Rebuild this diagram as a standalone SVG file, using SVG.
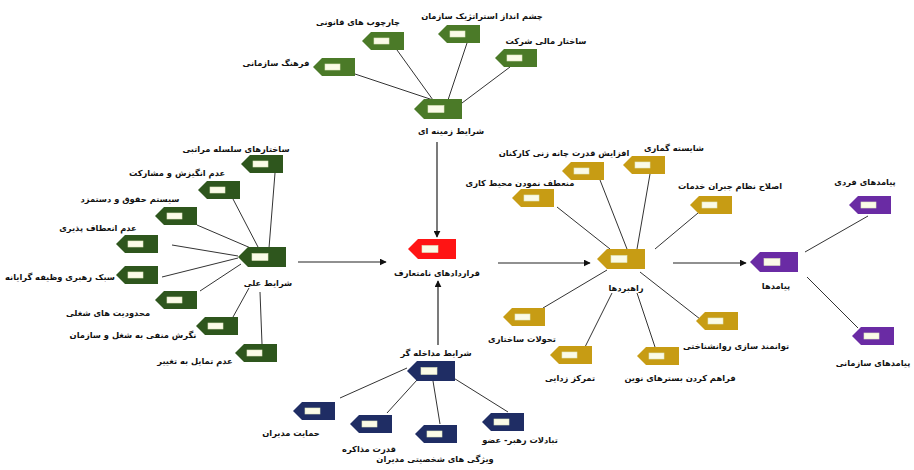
<svg xmlns="http://www.w3.org/2000/svg" xmlns:xlink="http://www.w3.org/1999/xlink" width="914" height="470" viewBox="0 0 914 470">
<style>
text{font-family:"DejaVu Sans",sans-serif;font-size:8.3px;font-weight:bold;fill:#111;text-anchor:middle}
.ln{stroke:#333;stroke-width:1;fill:none}
.ar{stroke:#222;stroke-width:1.2;fill:none;marker-end:url(#ah)}
.g1{fill:#4b7a28}
.g2{fill:#2e561d}
.rd{fill:#ff1414}
.gd{fill:#c79c14}
.pu{fill:#6a2ba4}
.nv{fill:#1f2d64}
</style>
<defs>
<marker id="ah" viewBox="0 0 10 10" refX="9" refY="5" markerWidth="7" markerHeight="7" markerUnits="userSpaceOnUse" orient="auto">
<path d="M0,0 L10,5 L0,10 Z" fill="#111"/>
</marker>
<symbol id="leaf" overflow="visible">
<path d="M0,9 L9,0 H42 V18 H9 Z"/>
<rect x="12" y="6" width="15" height="6" fill="#fbfbe8" stroke="#dfe6c0" stroke-width="0.6"/>
</symbol>
<symbol id="hub" overflow="visible">
<path d="M0,10 L10,0 H48 V20 H10 Z"/>
<rect x="14" y="6.5" width="16" height="7" fill="#fbfbe8" stroke="#dfe6c0" stroke-width="0.6"/>
</symbol>
</defs>
<rect width="914" height="470" fill="#ffffff"/>

<g id="connectors">
<line class="ln" x1="352" y1="73" x2="433" y2="100"/>
<line class="ln" x1="397" y1="50" x2="433" y2="100"/>
<line class="ln" x1="467" y1="43" x2="448" y2="100"/>
<line class="ln" x1="510" y1="67" x2="462" y2="103"/>

<line class="ln" x1="275" y1="173" x2="269" y2="248"/>
<line class="ln" x1="233" y1="199" x2="258" y2="247"/>
<line class="ln" x1="197" y1="225" x2="253" y2="249"/>
<line class="ln" x1="172" y1="245" x2="238" y2="256"/>
<line class="ln" x1="162" y1="277" x2="238" y2="258"/>
<line class="ln" x1="200" y1="291" x2="241" y2="264"/>
<line class="ln" x1="233" y1="317" x2="249" y2="288"/>
<line class="ln" x1="262" y1="344" x2="260" y2="292"/>

<line class="ln" x1="557" y1="207" x2="610" y2="249"/>
<line class="ln" x1="600" y1="180" x2="627" y2="249"/>
<line class="ln" x1="650" y1="174" x2="637" y2="249"/>
<line class="ln" x1="698" y1="213" x2="655" y2="249"/>
<line class="ln" x1="543" y1="308" x2="607" y2="270"/>
<line class="ln" x1="585" y1="347" x2="612" y2="293"/>
<line class="ln" x1="655" y1="347" x2="637" y2="293"/>
<line class="ln" x1="700" y1="319" x2="640" y2="272"/>

<line class="ln" x1="805" y1="252" x2="868" y2="216"/>
<line class="ln" x1="807" y1="277" x2="858" y2="328"/>

<line class="ln" x1="340" y1="398" x2="407" y2="368"/>
<line class="ln" x1="387" y1="413" x2="417" y2="380"/>
<line class="ln" x1="440" y1="424" x2="433" y2="381"/>
<line class="ln" x1="508" y1="412" x2="452" y2="377"/>

<line class="ar" x1="437" y1="142" x2="437" y2="237"/>
<line class="ar" x1="438" y1="345" x2="438" y2="281"/>
<line class="ar" x1="298" y1="262" x2="386" y2="262"/>
<line class="ar" x1="498" y1="263" x2="590" y2="263"/>
<line class="ar" x1="673" y1="263" x2="746" y2="263"/>
</g>

<!-- top cluster -->
<g id="n-farhang"><use href="#leaf" class="g1" x="313" y="58"/><text x="276" y="66">فرهنگ سازمانی</text></g>
<g id="n-charchub"><use href="#leaf" class="g1" x="362" y="32"/><text x="358" y="25">چارچوب های قانونی</text></g>
<g id="n-cheshm"><use href="#leaf" class="g1" x="438" y="25"/><text x="482" y="19">چشم انداز استراتژیک سازمان</text></g>
<g id="n-mali"><use href="#leaf" class="g1" x="495" y="49"/><text x="546" y="44">ساختار مالی شرکت</text></g>
<g id="n-zamine"><use href="#hub" class="g1" x="414" y="99"/><text x="451" y="134">شرایط زمینه ای</text></g>

<!-- left cluster -->
<g id="n-selsele"><use href="#leaf" class="g2" x="241" y="155"/><text x="236" y="152">ساختارهای سلسله مراتبی</text></g>
<g id="n-angize"><use href="#leaf" class="g2" x="198" y="181"/><text x="177" y="176">عدم انگیزش و مشارکت</text></g>
<g id="n-hoghugh"><use href="#leaf" class="g2" x="155" y="207"/><text x="130" y="202">سیستم حقوق و دستمزد</text></g>
<g id="n-enetaf"><use href="#leaf" class="g2" x="116" y="235"/><text x="98" y="231">عدم انعطاف پذیری</text></g>
<g id="n-ali"><use href="#hub" class="g2" x="238" y="247"/><text x="268" y="286">شرایط علی</text></g>
<g id="n-sabk"><use href="#leaf" class="g2" x="116" y="266"/><text x="60" y="280">سبک رهبری وظیفه گرایانه</text></g>
<g id="n-mahdud"><use href="#leaf" class="g2" x="155" y="291"/><text x="108" y="316">محدودیت های شغلی</text></g>
<g id="n-negaresh"><use href="#leaf" class="g2" x="196" y="317"/><text x="133" y="338">نگرش منفی به شغل و سازمان</text></g>
<g id="n-tamayol"><use href="#leaf" class="g2" x="235" y="344"/><text x="195" y="364">عدم تمایل به تغییر</text></g>

<!-- center -->
<g id="n-gharardad"><use href="#hub" class="rd" x="408" y="239"/><text x="437" y="276">قراردادهای نامتعارف</text></g>

<!-- gold cluster -->
<g id="n-afzayesh"><use href="#leaf" class="gd" x="562" y="162"/><text x="564" y="156">افزایش قدرت چانه زنی کارکنان</text></g>
<g id="n-shayeste"><use href="#leaf" class="gd" x="623" y="156"/><text x="674" y="151">شایسته گماری</text></g>
<g id="n-monatef"><use href="#leaf" class="gd" x="512" y="189"/><text x="520" y="186">منعطف نمودن محیط کاری</text></g>
<g id="n-eslah"><use href="#leaf" class="gd" x="690" y="196"/><text x="730" y="189">اصلاح نظام جبران خدمات</text></g>
<g id="n-rahbord"><use href="#hub" class="gd" x="597" y="249"/><text x="626" y="291">راهبردها</text></g>
<g id="n-tahavol"><use href="#leaf" class="gd" x="503" y="308"/><text x="522" y="342">تحولات ساختاری</text></g>
<g id="n-tamarkoz"><use href="#leaf" class="gd" x="550" y="346"/><text x="570" y="381">تمرکز زدایی</text></g>
<g id="n-faraham"><use href="#leaf" class="gd" x="637" y="347"/><text x="680" y="381">فراهم کردن بسترهای نوین</text></g>
<g id="n-tavanmand"><use href="#leaf" class="gd" x="696" y="312"/><text x="736" y="349">توانمند سازی روانشناختی</text></g>

<!-- purple cluster -->
<g id="n-payamad"><use href="#hub" class="pu" x="750" y="252"/><text x="776" y="289">پیامدها</text></g>
<g id="n-fardi"><use href="#leaf" class="pu" x="849" y="196"/><text x="865" y="185">پیامدهای فردی</text></g>
<g id="n-sazmani"><use href="#leaf" class="pu" x="852" y="327"/><text x="873" y="366">پیامدهای سازمانی</text></g>

<!-- navy cluster -->
<g id="n-modakhele"><use href="#hub" class="nv" x="407" y="361"/><text x="436" y="356">شرایط مداخله گر</text></g>
<g id="n-hemayat"><use href="#leaf" class="nv" x="293" y="402"/><text x="291" y="436">حمایت مدیران</text></g>
<g id="n-ghodrat"><use href="#leaf" class="nv" x="350" y="415"/><text x="369" y="452">قدرت مذاکره</text></g>
<g id="n-vijegi"><use href="#leaf" class="nv" x="415" y="425"/><text x="435" y="462">ویژگی های شخصیتی مدیران</text></g>
<g id="n-tabadol"><use href="#leaf" class="nv" x="482" y="413"/><text x="520" y="443">تبادلات رهبر- عضو</text></g>
</svg>
